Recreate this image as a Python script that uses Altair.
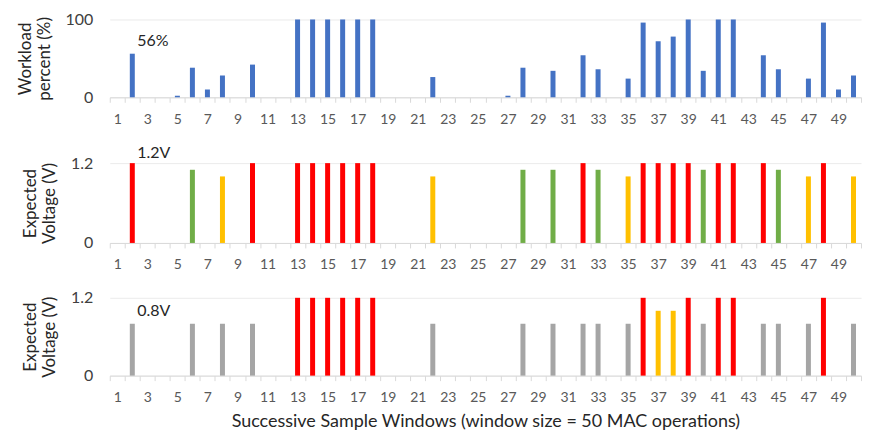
import altair as alt
import pandas as pd

# ---- data ----
windows = list(range(1, 51))
workload = [0, 56, 0, 0, 2, 38, 10, 28, 0, 42,
            0, 0, 100, 100, 100, 100, 100, 100, 0, 0,
            0, 26, 0, 0, 0, 0, 2, 38, 0, 34,
            0, 54, 36, 0, 24, 96, 72, 78, 100, 34,
            100, 100, 0, 54, 36, 0, 24, 96, 10, 28]
volt_a = [0, 1.2, 0, 0, 0, 1.1, 0, 1.0, 0, 1.2,
          0, 0, 1.2, 1.2, 1.2, 1.2, 1.2, 1.2, 0, 0,
          0, 1.0, 0, 0, 0, 0, 0, 1.1, 0, 1.1,
          0, 1.2, 1.1, 0, 1.0, 1.2, 1.2, 1.2, 1.2, 1.1,
          1.2, 1.2, 0, 1.2, 1.1, 0, 1.0, 1.2, 0, 1.0]
volt_b = [0, 0.8, 0, 0, 0, 0.8, 0, 0.8, 0, 0.8,
          0, 0, 1.2, 1.2, 1.2, 1.2, 1.2, 1.2, 0, 0,
          0, 0.8, 0, 0, 0, 0, 0, 0.8, 0, 0.8,
          0, 0.8, 0.8, 0, 0.8, 1.2, 1.0, 1.0, 1.2, 0.8,
          1.2, 1.2, 0, 0.8, 0.8, 0, 0.8, 1.2, 0, 0.8]

volt_levels = [0, 0.8, 1.0, 1.1, 1.2]
volt_colors = ["#ffffff", "#a5a5a5", "#ffc000", "#70ad47", "#ff0000"]

ann_text = ["56%", "1.2V", "0.8V"]
ann_x = [2, 2, 2]
ann_y = [72, 1.35, 0.99]

FONT = "Lato"
W = 753

df1 = pd.DataFrame({"w": windows, "v": workload})
df2 = pd.DataFrame({"w": windows, "v": volt_a})
df3 = pd.DataFrame({"w": windows, "v": volt_b})


def xenc(title=None):
    kw = dict(
        labelExpr="datum.value % 2 == 1 ? datum.label : ''",
        labelAngle=0, tickBand="extent", tickSize=5,
        tickColor="#d9d9d9", domainColor="#d9d9d9",
        labelColor="#595959", labelFontSize=14, labelFont=FONT,
        labelPadding=10, grid=False,
        titleFont=FONT, titleFontSize=18, titleFontWeight="normal",
        titleColor="#262626", titlePadding=8,
    )
    return alt.X("w:O", scale=alt.Scale(domain=windows, paddingInner=0, paddingOuter=0),
                 axis=alt.Axis(**kw), title=title)


def yaxis(values, label_expr, fmt, title):
    return alt.Axis(values=values, labelExpr=label_expr, format=fmt,
                    ticks=False, domain=False, grid=True, gridColor="#ebebeb",
                    labelFont=FONT, labelFontSize=16, labelColor="#404040",
                    labelPadding=17, title=title, titleFont=FONT,
                    titleFontSize=17, titleFontWeight="normal",
                    titleColor="#262626", titleLineHeight=19, titlePadding=12)


def annotation(i, yscale):
    d = pd.DataFrame({"w": [ann_x[i]], "v": [ann_y[i]], "t": [ann_text[i]]})
    return alt.Chart(d).mark_text(align="left", baseline="middle", dx=5,
                                  font=FONT, fontSize=16, color="#262626").encode(
        x=alt.X("w:O", scale=alt.Scale(domain=windows)),
        y=alt.Y("v:Q", scale=yscale),
        text="t:N")


ys1 = alt.Scale(domain=[0, 100], nice=False)
p1 = alt.layer(
    alt.Chart(df1).mark_bar(size=5, color="#4472c4").encode(
        x=xenc(),
        y=alt.Y("v:Q", scale=ys1,
                axis=yaxis(list(range(0, 101, 10)),
                           "datum.value % 50 == 0 ? datum.label : ''", "d",
                           ["Workload", "percent  (%)"]))),
    annotation(0, ys1),
).properties(width=W, height=78)

vvals = [round(i * 0.12, 2) for i in range(11)]
vexpr = "indexof([0, 0.6, 1.2], datum.value) >= 0 ? datum.label : ''"


def vpanel(df, idx, title=None, height=78):
    ys = alt.Scale(domain=[0, 1.2], nice=False)
    bars = alt.Chart(df).mark_bar(size=5).encode(
        x=xenc(title),
        y=alt.Y("v:Q", scale=ys,
                axis=yaxis(vvals, vexpr, ".1~f", ["Expected", "Voltage (V)"])),
        color=alt.Color("v:O", scale=alt.Scale(domain=volt_levels, range=volt_colors),
                        legend=None),
    )
    return alt.layer(bars, annotation(idx, ys)).properties(width=W, height=height)


p2 = vpanel(df2, 1, height=80)
p3 = vpanel(df3, 2, title="Successive Sample Windows (window size = 50 MAC operations)")

chart = alt.vconcat(p1, p2, p3, spacing=18).properties(
    padding={"left": 8, "top": 3, "right": 0, "bottom": 0}
).configure_view(stroke=None)

chart.save("out.html", embed_options={"renderer": "svg", "actions": False})
